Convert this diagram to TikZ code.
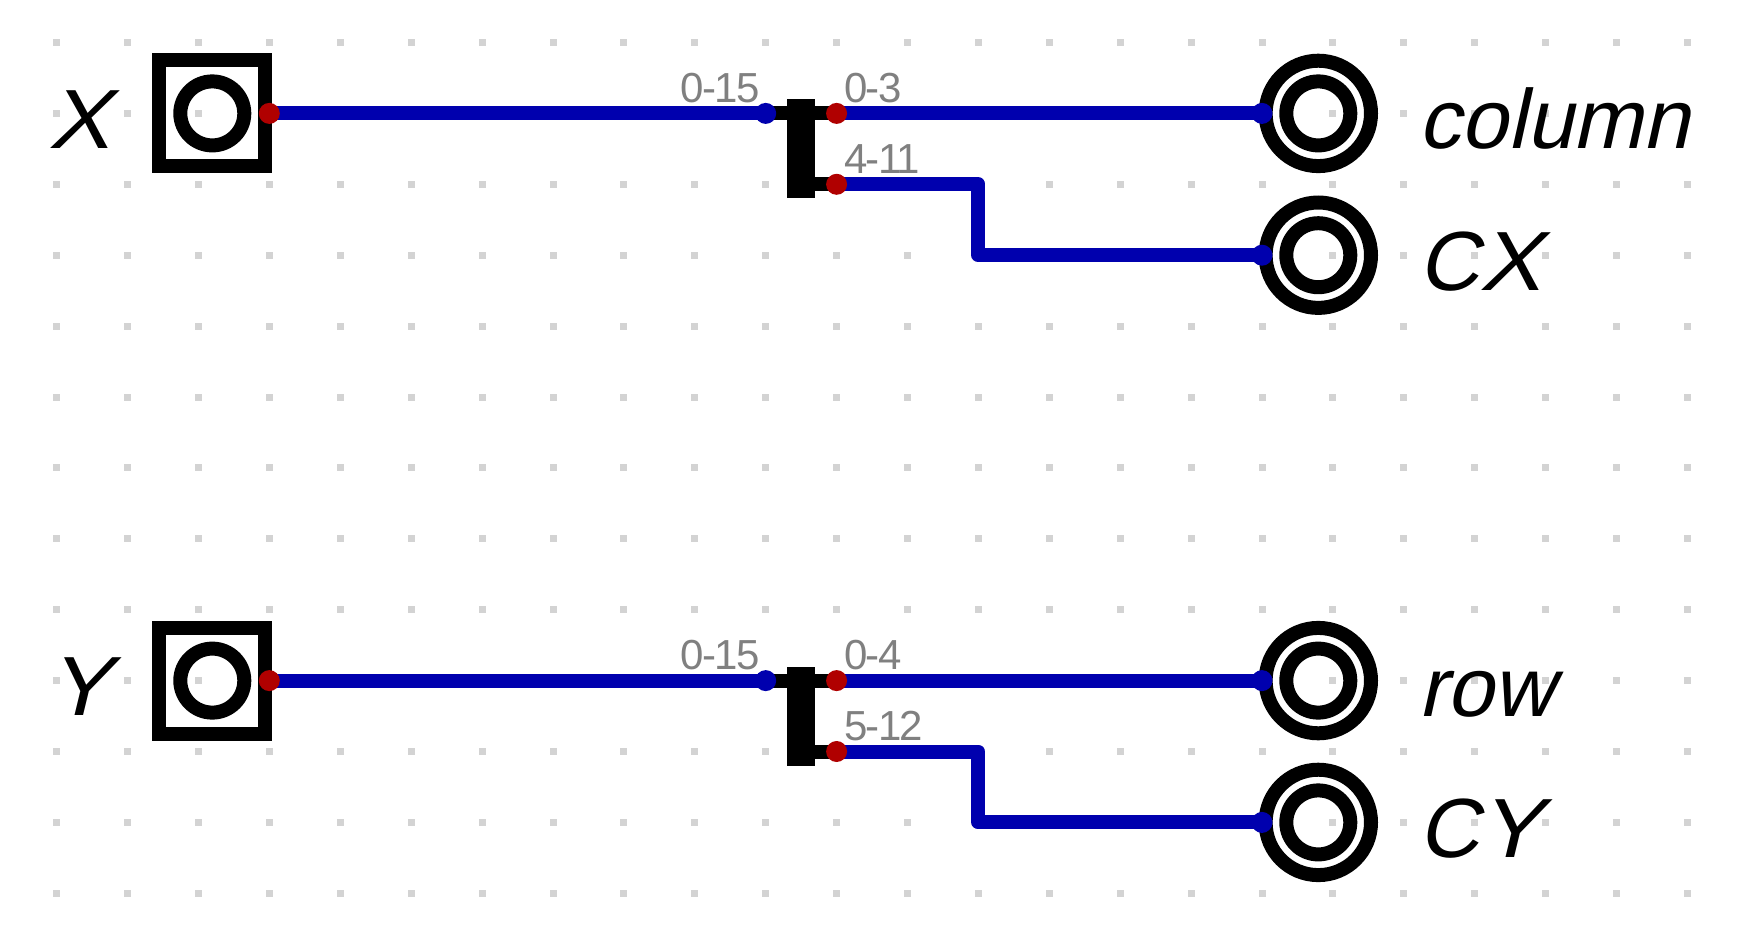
\documentclass[tikz,border=0pt]{standalone}
\usepackage{fontspec}
\setmainfont{Liberation Sans}
\newfontfamily\slantfont[FakeSlant=0.22]{Liberation Sans}
\newfontfamily\bitfont[LetterSpace=-4]{Liberation Sans}
\newcommand{\widecap}[1]{\scalebox{1.1}[1]{#1}}
\definecolor{wireblue}{HTML}{0000AE}
\definecolor{pinred}{HTML}{B00000}
\definecolor{griddot}{HTML}{D3D3D3}
\definecolor{bitgray}{HTML}{808080}
\tikzset{
  griddotmark/.style={fill=griddot,draw=none},
  wire/.style={draw=wireblue,line width=10.5pt,line cap=round,line join=round},
  stub/.style={draw=black,line width=10.5pt,line cap=butt},
  pindot/.style={circle,inner sep=0pt,minimum size=15.75pt,draw=none},
  outpin/.style={pindot,fill=pinred},
  inpin/.style={pindot,fill=wireblue},
  inbox/.style={rectangle,draw=black,line width=10.5pt,minimum size=79.5pt,inner sep=0pt},
  ring/.style={circle,draw=black,line width=10.5pt,inner sep=0pt},
  innerring/.style={ring,minimum size=48pt},
  outerring/.style={ring,minimum size=79.05pt},
  splitbar/.style={rectangle,fill=black,draw=none,minimum width=21pt,minimum height=74.25pt,inner sep=0pt},
  biglabel/.style={anchor=base west,inner sep=0pt,font=\fontsize{63}{63}\slantfont},
  bitlabel/.style={inner sep=0pt,text=bitgray,font=\fontsize{31.5}{31.5}\bitfont}
}
% #1 suffix, #2 dy, #3 input label, #4 first output bits, #5 second output bits, #6 first output label, #7 second output label
\newcommand{\bitblock}[7]{%
  \coordinate (src#1) at (269.3,113.4+#2);
  \coordinate (sin#1) at (765.7,113.4+#2);
  \coordinate (sa#1) at (836.6,113.4+#2);
  \coordinate (sb#1) at (836.6,184.3+#2);
  \coordinate (bend#1) at (978.4,184.3+#2);
  \coordinate (bendb#1) at (978.4,255.2+#2);
  \coordinate (oa#1) at (1262,113.4+#2);
  \coordinate (ob#1) at (1262,255.2+#2);
  \node[inbox] (box#1) at (212.3,113.4+#2) {};
  \node[innerring] (boxring#1) at (212.3,113.4+#2) {};
  \node[outerring] (outA#1) at (1318.3,113.4+#2) {};
  \node[innerring] (outAi#1) at (1318.3,113.4+#2) {};
  \node[outerring] (outB#1) at (1318.3,255.2+#2) {};
  \node[innerring] (outBi#1) at (1318.3,255.2+#2) {};
  \draw[wire] (src#1) -- (sin#1);
  \draw[wire] (sa#1) -- (oa#1);
  \draw[wire] (sb#1) -- (bend#1) -- (bendb#1) -- (ob#1);
  \node[splitbar] (bar#1) at (801.3,148.8+#2) {};
  \draw[stub] (sin#1) -- (sa#1);
  \draw[stub] (bar#1.center |- sb#1) -- (sb#1);
  \node[outpin] (psrc#1) at (src#1) {};
  \node[inpin] (psin#1) at (sin#1) {};
  \node[outpin] (psa#1) at (sa#1) {};
  \node[outpin] (psb#1) at (sb#1) {};
  \node[inpin] (poa#1) at (oa#1) {};
  \node[inpin] (pob#1) at (ob#1) {};
  \node[bitlabel,anchor=base east] (lin#1) at (760,102.7+#2) {0-15};
  \node[bitlabel,anchor=base west] (la#1) at (844,102.7+#2) {#4};
  \node[bitlabel,anchor=base west] (lb#1) at (844,173.3+#2) {#5};
  \node[biglabel] (name#1) at (48,148.3+#2) {#3};
  \node[biglabel] (nameA#1) at (1418.5,148.8+#2) {#6};
  \node[biglabel] (nameB#1) at (1418.5,290.7+#2) {#7};
}
\begin{document}
\begin{tikzpicture}[x=0.75pt,y=-0.75pt]
  \useasboundingbox (0,0) rectangle (1746,929);
  \fill[white] (0,0) rectangle (1746,929);
  \foreach \i in {0,...,23}{
    \foreach \j in {0,...,12}{
      \fill[griddotmark] ({56.7+70.9*\i-3.5},{42.5+70.9*\j-3.5}) rectangle ++(7,7);
    }
  }
  \bitblock{x}{0}{\widecap{X}}{0-3}{4-11}{column}{C\widecap{X}}
  \bitblock{y}{567.2}{\widecap{Y}}{0-4}{5-12}{row}{C\widecap{Y}}
\end{tikzpicture}
\end{document}
